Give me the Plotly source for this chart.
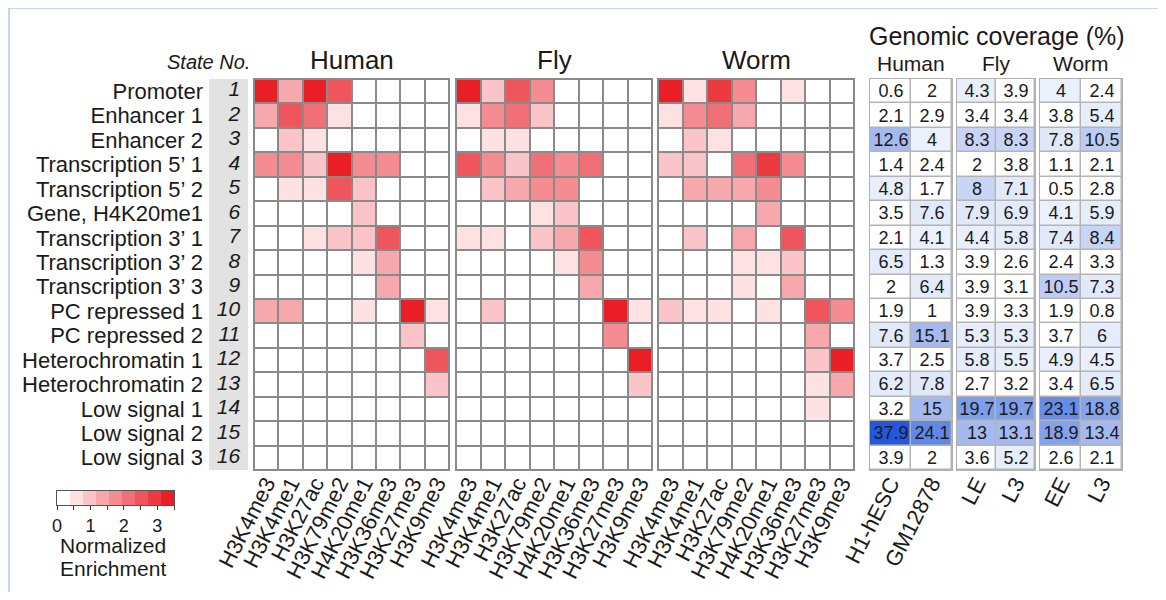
import plotly.graph_objects as go

# ---------------- data ----------------
states = ["Promoter", "Enhancer 1", "Enhancer 2", "Transcription 5’ 1",
          "Transcription 5’ 2", "Gene, H4K20me1", "Transcription 3’ 1",
          "Transcription 3’ 2", "Transcription 3’ 3", "PC repressed 1",
          "PC repressed 2", "Heterochromatin 1", "Heterochromatin 2",
          "Low signal 1", "Low signal 2", "Low signal 3"]
state_nums = list(range(1, 17))
marks = ["H3K4me3", "H3K4me1", "H3K27ac", "H3K79me2",
         "H4K20me1", "H3K36me3", "H3K27me3", "H3K9me3"]

human = [
    [3.5, 1.5, 3.5, 2.5, 0, 0, 0, 0],
    [1.5, 2.7, 2.2, 0.5, 0, 0, 0, 0],
    [0, 1.0, 0.5, 0, 0, 0, 0, 0],
    [1.8, 1.8, 1.0, 3.5, 1.8, 1.8, 0, 0],
    [0, 0.5, 0.5, 2.5, 1.0, 0, 0, 0],
    [0, 0, 0, 0, 1.0, 0, 0, 0],
    [0, 0, 0.5, 1.0, 1.0, 2.7, 0, 0],
    [0, 0, 0, 0, 0.5, 1.5, 0, 0],
    [0, 0, 0, 0, 0, 1.5, 0, 0],
    [1.5, 1.5, 0, 0, 0.5, 0, 3.5, 0.5],
    [0, 0, 0, 0, 0, 0, 1.0, 0],
    [0, 0, 0, 0, 0, 0, 0, 2.7],
    [0, 0, 0, 0, 0, 0, 0, 1.0],
    [0, 0, 0, 0, 0, 0, 0, 0],
    [0, 0, 0, 0, 0, 0, 0, 0],
    [0, 0, 0, 0, 0, 0, 0, 0],
]
fly = [
    [3.5, 1.0, 2.7, 1.8, 0, 0, 0, 0],
    [0.5, 1.8, 2.2, 1.0, 0, 0, 0, 0],
    [0, 0.5, 0.5, 0, 0, 0, 0, 0],
    [2.7, 1.8, 1.0, 2.2, 1.8, 2.2, 0, 0],
    [0, 1.0, 1.5, 1.8, 1.8, 0, 0, 0],
    [0, 0, 0, 0.5, 1.0, 0, 0, 0],
    [0.5, 0.5, 0, 1.0, 1.5, 2.7, 0, 0],
    [0, 0, 0, 0, 0.5, 1.8, 0, 0],
    [0, 0, 0, 0, 0, 1.5, 0, 0],
    [0, 1.0, 0, 0, 0, 0, 3.5, 0.5],
    [0, 0, 0, 0, 0, 0, 1.8, 0],
    [0, 0, 0, 0, 0, 0, 0, 3.5],
    [0, 0, 0, 0, 0, 0, 0, 1.0],
    [0, 0, 0, 0, 0, 0, 0, 0],
    [0, 0, 0, 0, 0, 0, 0, 0],
    [0, 0, 0, 0, 0, 0, 0, 0],
]
worm = [
    [3.5, 0.5, 3.0, 1.8, 0, 0.5, 0, 0],
    [0.5, 1.8, 2.2, 1.5, 0, 0, 0, 0],
    [0, 1.0, 0.5, 0, 0, 0, 0, 0],
    [1.0, 1.0, 0, 2.2, 3.0, 1.8, 0, 0],
    [0, 1.5, 1.5, 1.5, 1.8, 0, 0, 0],
    [0, 0, 0, 0, 1.5, 0, 0, 0],
    [0, 1.0, 0, 1.5, 0, 2.7, 0, 0],
    [0, 0, 0, 0.5, 0.5, 1.0, 0, 0],
    [0, 0, 0, 0.5, 0, 1.5, 0, 0],
    [1.0, 0.5, 0.5, 0, 0.5, 0, 2.7, 1.8],
    [0, 0, 0, 0, 0, 0, 1.5, 0],
    [0, 0, 0, 0, 0, 0, 1.0, 3.5],
    [0, 0, 0, 0, 0, 0, 0.5, 1.5],
    [0, 0, 0, 0, 0, 0, 0.5, 0],
    [0, 0, 0, 0, 0, 0, 0, 0],
    [0, 0, 0, 0, 0, 0, 0, 0],
]

cov_h1_hesc = ["0.6", "2.1", "12.6", "1.4", "4.8", "3.5", "2.1", "6.5", "2", "1.9", "7.6", "3.7", "6.2", "3.2", "37.9", "3.9"]
cov_gm12878 = ["2", "2.9", "4", "2.4", "1.7", "7.6", "4.1", "1.3", "6.4", "1", "15.1", "2.5", "7.8", "15", "24.1", "2"]
cov_fly_le = ["4.3", "3.4", "8.3", "2", "8", "7.9", "4.4", "3.9", "3.9", "3.9", "5.3", "5.8", "2.7", "19.7", "13", "3.6"]
cov_fly_l3 = ["3.9", "3.4", "8.3", "3.8", "7.1", "6.9", "5.8", "2.6", "3.1", "3.3", "5.3", "5.5", "3.2", "19.7", "13.1", "5.2"]
cov_worm_ee = ["4", "3.8", "7.8", "1.1", "0.5", "4.1", "7.4", "2.4", "10.5", "1.9", "3.7", "4.9", "3.4", "23.1", "18.9", "2.6"]
cov_worm_l3 = ["2.4", "5.4", "10.5", "2.1", "2.8", "5.9", "8.4", "3.3", "7.3", "0.8", "6", "4.5", "6.5", "18.8", "13.4", "2.1"]

species = ["Human", "Fly", "Worm"]
cov_groups = [
    ("Human", ["H1-hESC", "GM12878"], [cov_h1_hesc, cov_gm12878]),
    ("Fly", ["LE", "L3"], [cov_fly_le, cov_fly_l3]),
    ("Worm", ["EE", "L3"], [cov_worm_ee, cov_worm_l3]),
]
enrich_max = 3.5
enrich_ticks = [0, 0.5, 1, 1.5, 2, 2.5, 3, 3.5]
enrich_ticktext = ["0", "", "1", "", "2", "", "3", ""]

# ---------------- styling ----------------
OFF = 8                      # page body margin
W, H = 1166 - 2 * OFF, 600 - 2 * OFF
FONT = "Liberation Sans, Arial, sans-serif"
TXT = "#1a1a1a"


def px(x):
    return (x - OFF) / W


def py(y):
    return 1 - (y - OFF) / H


enrich_colors = ['#FFFFFF', '#FDE1E3', '#FAC4C8', '#F7A8AD', '#F48C92',
                 '#F17077', '#EF555C', '#EC3A41', '#EA1F26']
nb = len(enrich_colors)
enrich_scale = []
for i, c in enumerate(enrich_colors):
    enrich_scale.append([i / nb, c])
    enrich_scale.append([(i + 1) / nb, c])

CMAX = 38.0
cov_stops = [(0, '#FFFFFF'), (3.95, '#FFFFFF'), (4.0, '#EAF0FC'), (7.9, '#E0E8FA'),
             (8.0, '#C8D5F6'), (11, '#B9CAF4'), (12.5, '#A3B9F0'), (16, '#A3B9F0'),
             (18.5, '#86A4EB'), (24.5, '#5E86E5'), (38, '#2358DE')]
cov_scale = [[v / CMAX, c] for v, c in cov_stops]

GRID_TOP, GRID_BOT = 79, 470
ydom = [py(GRID_BOT), py(GRID_TOP)]
heat_x = [(254, 449), (456, 652), (658, 854)]
cov_x = [(870, 952), (957, 1035), (1040, 1122)]
state_x = (209, 248)
legend_x = (57, 174)
legend_y = (491, 505)

fig = go.Figure()
layout = dict(
    width=W, height=H, margin=dict(l=0, r=0, t=0, b=0, autoexpand=False),
    paper_bgcolor="white", plot_bgcolor="white",
    font=dict(family=FONT, color=TXT), showlegend=False,
)
shapes = []
annotations = []

yaxis_common = dict(domain=ydom, range=[16.5, 0.5], showgrid=False, zeroline=False,
                    showticklabels=False, ticks="", fixedrange=True, automargin=False)


def ann(text, x, y, size, xanchor="center", yanchor="middle"):
    annotations.append(dict(text=text, x=px(x), y=py(y), xref="paper", yref="paper",
                            xanchor=xanchor, yanchor=yanchor, showarrow=False,
                            font=dict(size=size, color=TXT, family=FONT)))


# state number column (axis 1)
fig.add_trace(go.Heatmap(z=[[0] for _ in state_nums], x=[0], y=state_nums,
                         colorscale=[[0, '#E2E2E2'], [1, '#E2E2E2']], showscale=False,
                         hoverinfo="skip", xaxis="x", yaxis="y"))
fig.add_trace(go.Scatter(x=[0.3] * 16, y=state_nums, mode="text",
                         text=[f"<i>{s}</i>" for s in state_nums],
                         textposition="middle left",
                         textfont=dict(size=21, color=TXT, family=FONT),
                         hoverinfo="skip", xaxis="x", yaxis="y"))
layout["xaxis"] = dict(domain=[px(state_x[0]), px(state_x[1])], range=[-0.5, 0.5],
                       anchor="y", showgrid=False, zeroline=False, showticklabels=False,
                       fixedrange=True, automargin=False)
layout["yaxis"] = dict(yaxis_common, anchor="x", showticklabels=True, tickmode="array",
                       tickvals=state_nums, ticktext=states, ticks="",
                       ticklabelstandoff=5,
                       tickfont=dict(size=22, color=TXT, family=FONT))

axis_idx = 1
tick_common = dict(showgrid=False, zeroline=False, tickmode="array", tickangle=-63,
                   ticks="", fixedrange=True, automargin=False, ticklabelstandoff=-9,
                   tickfont=dict(size=22, color=TXT, family=FONT),
                   showline=True, linewidth=1, mirror=True)
# enrichment heatmaps
for k, (name, mat) in enumerate(zip(species, [human, fly, worm])):
    axis_idx += 1
    xa, ya = f"x{axis_idx}", f"y{axis_idx}"
    fig.add_trace(go.Heatmap(z=mat, x=list(range(len(marks))), y=state_nums,
                             coloraxis="coloraxis", xgap=2, ygap=2,
                             xaxis=xa, yaxis=ya, hoverinfo="skip"))
    x0, x1 = heat_x[k]
    layout[f"xaxis{axis_idx}"] = dict(
        tick_common, domain=[px(x0), px(x1)], range=[-0.5, len(marks) - 0.5],
        anchor=ya, tickvals=list(range(len(marks))), ticktext=marks,
        linecolor="#8a8a8a")
    layout[f"yaxis{axis_idx}"] = dict(yaxis_common, anchor=xa, showline=True,
                                      linecolor="#8a8a8a", linewidth=1, mirror=True)
    shapes.append(dict(type="rect", xref=f"{xa} domain", yref=f"{ya} domain",
                       x0=0, x1=1, y0=0, y1=1, fillcolor="#8a8a8a",
                       line=dict(width=0), layer="below"))
    ann(name, (x0 + x1) / 2, 60, 26)

# coverage tables
for k, (name, cols, vals) in enumerate(cov_groups):
    axis_idx += 1
    xa, ya = f"x{axis_idx}", f"y{axis_idx}"
    z = [[float(vals[c][r]) for c in range(len(cols))] for r in range(16)]
    txt = [[vals[c][r] for c in range(len(cols))] for r in range(16)]
    fig.add_trace(go.Heatmap(z=z, x=list(range(len(cols))), y=state_nums, text=txt,
                             texttemplate="%{text}",
                             textfont=dict(size=18, color=TXT, family=FONT),
                             coloraxis="coloraxis2", xgap=1.5, ygap=1.5,
                             xaxis=xa, yaxis=ya, hoverinfo="skip"))
    x0, x1 = cov_x[k]
    layout[f"xaxis{axis_idx}"] = dict(
        tick_common, domain=[px(x0), px(x1)], range=[-0.5, len(cols) - 0.5],
        anchor=ya, tickvals=list(range(len(cols))), ticktext=cols,
        linecolor="#b0b0b0")
    layout[f"yaxis{axis_idx}"] = dict(yaxis_common, anchor=xa, showline=True,
                                      linecolor="#b0b0b0", linewidth=1, mirror=True)
    shapes.append(dict(type="rect", xref=f"{xa} domain", yref=f"{ya} domain",
                       x0=0, x1=1, y0=0, y1=1, fillcolor="#b4b4b4",
                       line=dict(width=0), layer="below"))
    ann(name, (x0 + x1) / 2, 64, 21)

# enrichment legend (colour key) on its own axis
axis_idx += 1
xa, ya = f"x{axis_idx}", f"y{axis_idx}"
bin_w = enrich_max / nb
bin_centers = [(i + 0.5) * bin_w for i in range(nb)]
fig.add_trace(go.Heatmap(z=[[i * bin_w + 0.01 for i in range(nb)]], x=bin_centers, y=[0],
                         coloraxis="coloraxis", xaxis=xa, yaxis=ya, hoverinfo="skip"))
layout[f"xaxis{axis_idx}"] = dict(
    domain=[px(legend_x[0]), px(legend_x[1])], range=[0, enrich_max], anchor=ya,
    showgrid=False, zeroline=False, tickmode="array", tickvals=enrich_ticks,
    ticktext=enrich_ticktext, ticks="outside", ticklen=4, tickcolor="#333",
    fixedrange=True, automargin=False,
    tickfont=dict(size=18, color=TXT, family=FONT),
    showline=True, linecolor="#555", linewidth=1, mirror=True)
layout[f"yaxis{axis_idx}"] = dict(
    domain=[py(legend_y[1]), py(legend_y[0])], range=[-0.5, 0.5], anchor=xa,
    showgrid=False, zeroline=False, showticklabels=False, ticks="", fixedrange=True,
    automargin=False, showline=True, linecolor="#555", linewidth=1, mirror=True)

ann("Genomic coverage (%)", 997, 36, 25)
ann("<i>State No.</i>", 252, 62, 20, xanchor="right")
ann("Normalized", 113, 545, 21)
ann("Enrichment", 113, 568, 21)

layout["coloraxis"] = dict(colorscale=enrich_scale, cmin=0, cmax=enrich_max,
                           showscale=False)
layout["coloraxis2"] = dict(colorscale=cov_scale, cmin=0, cmax=CMAX, showscale=False)

# frame lines (left and top)
shapes.append(dict(type="line", xref="paper", yref="paper", x0=px(9), x1=px(9),
                   y0=0, y1=py(8), line=dict(color="#8fa9e6", width=1)))
shapes.append(dict(type="line", xref="paper", yref="paper", x0=px(9), x1=1,
                   y0=py(8), y1=py(8), line=dict(color="#8fa9e6", width=1)))

layout["shapes"] = shapes
layout["annotations"] = annotations
fig.update_layout(**layout)
fig.write_html("out.html")
